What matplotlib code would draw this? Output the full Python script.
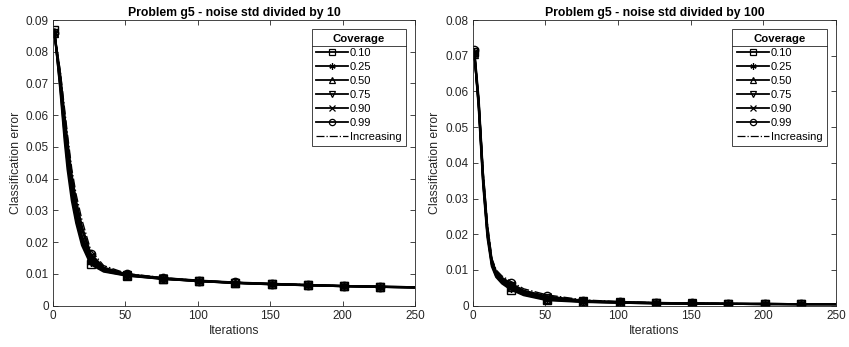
import matplotlib
matplotlib.use("Agg")
import matplotlib.pyplot as plt
from matplotlib.lines import Line2D

plt.rcParams["font.family"] = ["Liberation Sans", "DejaVu Sans"]
plt.rcParams["font.size"] = 8.5

# ---- data ----
coverage = ["0.10", "0.25", "0.50", "0.75", "0.90", "0.99", "Increasing"]
marker_iters = [1, 26, 51, 76, 101, 126, 151, 176, 201, 226]

# left: noise std / 10
it_left = [1, 5, 8, 10, 13, 16, 20, 26, 35, 51, 76, 101, 126, 151, 176, 201, 226, 250]
err_left = {
    "0.10":       [0.0870, 0.068, 0.052, 0.043, 0.033, 0.026, 0.019, 0.0130, 0.0107, 0.0094, 0.0084, 0.0077, 0.0071, 0.0067, 0.0064, 0.0061, 0.0059, 0.0057],
    "0.25":       [0.0860, 0.069, 0.054, 0.045, 0.035, 0.027, 0.020, 0.0137, 0.0109, 0.0095, 0.0084, 0.0077, 0.0071, 0.0067, 0.0064, 0.0061, 0.0059, 0.0057],
    "0.50":       [0.0860, 0.070, 0.055, 0.047, 0.036, 0.029, 0.021, 0.0144, 0.0111, 0.0096, 0.0085, 0.0077, 0.0072, 0.0068, 0.0064, 0.0061, 0.0059, 0.0057],
    "0.75":       [0.0860, 0.071, 0.057, 0.049, 0.038, 0.030, 0.022, 0.0151, 0.0114, 0.0097, 0.0085, 0.0078, 0.0072, 0.0068, 0.0065, 0.0062, 0.0059, 0.0058],
    "0.90":       [0.0860, 0.072, 0.058, 0.050, 0.040, 0.032, 0.024, 0.0157, 0.0117, 0.0098, 0.0086, 0.0078, 0.0072, 0.0068, 0.0065, 0.0062, 0.0060, 0.0058],
    "0.99":       [0.0860, 0.073, 0.060, 0.052, 0.041, 0.033, 0.025, 0.0164, 0.0120, 0.0099, 0.0087, 0.0079, 0.0073, 0.0069, 0.0065, 0.0062, 0.0060, 0.0058],
    "Increasing": [0.0860, 0.074, 0.062, 0.054, 0.043, 0.035, 0.027, 0.0175, 0.0126, 0.0101, 0.0088, 0.0079, 0.0073, 0.0069, 0.0066, 0.0062, 0.0060, 0.0058],
}

# right: noise std / 100
it_right = [1, 4, 7, 10, 13, 16, 20, 26, 35, 51, 76, 101, 126, 151, 176, 201, 226, 250]
err_right = {
    "0.10":       [0.0710, 0.055, 0.034, 0.019, 0.0110, 0.0080, 0.0062, 0.0045, 0.0029, 0.0015, 0.0010, 0.0008, 0.0006, 0.0005, 0.0005, 0.0004, 0.0004, 0.0004],
    "0.25":       [0.0710, 0.056, 0.035, 0.020, 0.0115, 0.0083, 0.0065, 0.0048, 0.0031, 0.0017, 0.0011, 0.0008, 0.0006, 0.0005, 0.0005, 0.0004, 0.0004, 0.0004],
    "0.50":       [0.0705, 0.056, 0.035, 0.020, 0.0118, 0.0086, 0.0068, 0.0051, 0.0033, 0.0019, 0.0011, 0.0009, 0.0007, 0.0006, 0.0005, 0.0004, 0.0004, 0.0004],
    "0.75":       [0.0700, 0.057, 0.036, 0.021, 0.0122, 0.0089, 0.0071, 0.0055, 0.0036, 0.0021, 0.0012, 0.0009, 0.0007, 0.0006, 0.0005, 0.0005, 0.0004, 0.0004],
    "0.90":       [0.0710, 0.057, 0.036, 0.021, 0.0125, 0.0092, 0.0074, 0.0058, 0.0039, 0.0023, 0.0013, 0.0010, 0.0007, 0.0006, 0.0005, 0.0005, 0.0004, 0.0004],
    "0.99":       [0.0715, 0.058, 0.037, 0.022, 0.0128, 0.0095, 0.0078, 0.0063, 0.0042, 0.0026, 0.0014, 0.0010, 0.0008, 0.0006, 0.0005, 0.0005, 0.0004, 0.0004],
    "Increasing": [0.0712, 0.058, 0.038, 0.023, 0.0133, 0.0100, 0.0083, 0.0068, 0.0047, 0.0030, 0.0016, 0.0011, 0.0008, 0.0007, 0.0006, 0.0005, 0.0005, 0.0004],
}

titles = ["Problem g5 - noise std divided by 10", "Problem g5 - noise std divided by 100"]
ymax = [0.09, 0.08]

# ---- styles ----
asterisk = (6, 2, 0)
markers = {"0.10": "s", "0.25": asterisk, "0.50": "^", "0.75": "v",
           "0.90": "x", "0.99": "o", "Increasing": None}
gray = "#262626"


def draw_panel(ax, iters, errs, title, top):
    idx = [i for i, v in enumerate(iters) if v in marker_iters]
    for name in coverage:
        m = markers[name]
        ls = "-." if name == "Increasing" else "-"
        ax.plot(iters, errs[name], color="black", lw=1.5 if m else 1.0, ls=ls,
                marker=m, markevery=idx if m else None, ms=6,
                mfc="none", mec="black", mew=1.0, label=name)
    nt = int(round(top / 0.01))
    ax.set_xlim(0, 250)
    ax.set_ylim(0, top)
    ax.set_xticks(range(0, 251, 50))
    ax.set_yticks([round(0.01 * k, 2) for k in range(nt + 1)])
    ax.set_yticklabels([("%g" % (0.01 * k)) if k else "0" for k in range(nt + 1)])
    ax.set_title(title, fontsize=8.8, fontweight="bold", pad=3)
    ax.set_xlabel("Iterations", fontsize=8.8, color=gray, labelpad=2)
    ax.set_ylabel("Classification error", fontsize=8.8, color=gray, labelpad=3)
    ax.tick_params(direction="in", top=True, right=True, length=3.5, width=0.6,
                   colors=gray, labelsize=8.5, pad=3)
    for s in ax.spines.values():
        s.set_color(gray)
        s.set_linewidth(0.6)

    handles = [Line2D([], [], color="black", lw=1.3 if markers[n] else 0.9,
                      ls="-." if n == "Increasing" else "-", marker=markers[n],
                      ms=4.5, mfc="none", mec="black", mew=0.9) for n in coverage]
    leg = ax.legend(handles, coverage, title="Coverage", loc="upper right",
                    bbox_to_anchor=(0.975, 0.968), borderaxespad=0,
                    fancybox=False, edgecolor=gray, fontsize=8,
                    handlelength=2.9, labelspacing=0.36, handletextpad=0.15,
                    borderpad=0.4, framealpha=1)
    leg.get_frame().set_linewidth(0.6)
    leg.get_title().set_fontweight("bold")
    leg.get_title().set_fontsize(8.2)
    return leg


fig = plt.figure(figsize=(8.49, 3.47), dpi=100)
ax1 = fig.add_axes([0.0624, 0.1193, 0.4264, 0.823])
ax2 = fig.add_axes([0.557, 0.1193, 0.4276, 0.823])
legs = [draw_panel(ax1, it_left, err_left, titles[0], ymax[0]),
        draw_panel(ax2, it_right, err_right, titles[1], ymax[1])]

# separator line under the legend title
fig.canvas.draw()
inv = fig.transFigure.inverted()
for leg in legs:
    fb = leg.get_frame().get_window_extent()
    tb = leg.get_title().get_window_extent()
    y = tb.y0 - 2
    (x0, yy), (x1, _) = inv.transform([(fb.x0, y), (fb.x1, y)])
    fig.add_artist(Line2D([x0, x1], [yy, yy], color=gray, lw=0.6))

fig.savefig("out.png", dpi=100)
